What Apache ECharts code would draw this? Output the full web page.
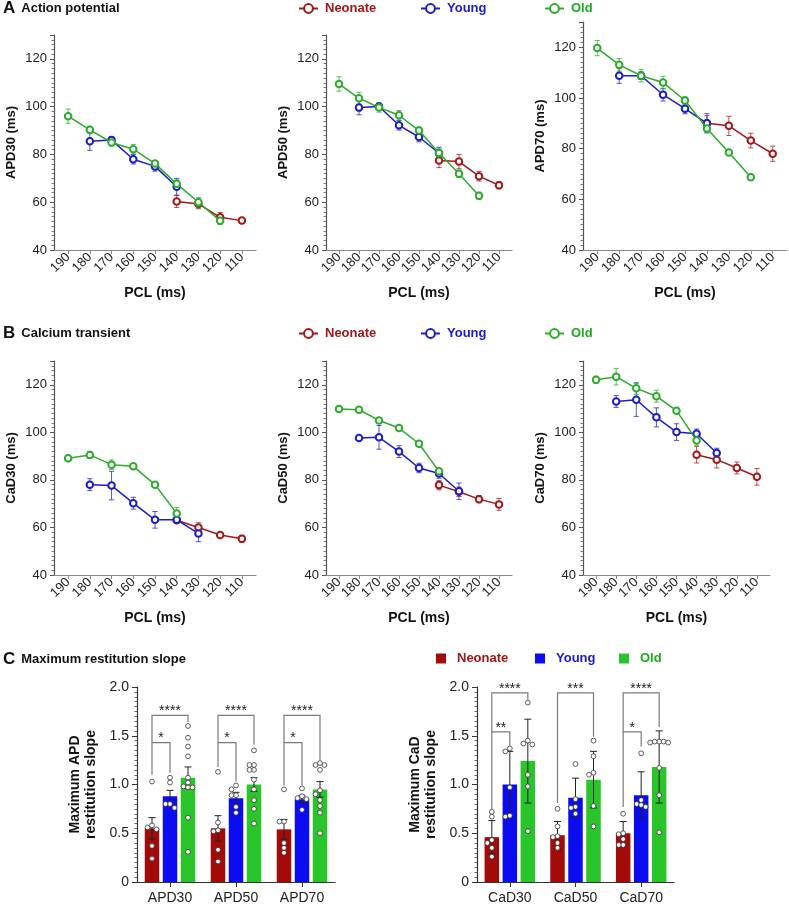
<!DOCTYPE html>
<html><head><meta charset="utf-8">
<script src="https://cdn.jsdelivr.net/npm/echarts@6/dist/echarts.min.js"></script>
<style>html,body{margin:0;padding:0;background:#fff}#c{width:789px;height:906px}</style>
</head><body><div id="c"></div>
<script>
// ---------------- DATA ----------------
const groups = ['Neonate', 'Young', 'Old'];
const pcl = [190, 180, 170, 160, 150, 140, 130, 120, 110];
const lineYTicks = [40, 60, 80, 100, 120];

// Panel A – action potential duration (ms), mean and SEM per PCL
const apd30Neonate    = [null, null, null, null, null, 60.3, 59.3, 53.7, 52.3];
const apd30NeonateSem = [null, null, null, null, null, 2.5, 2, 2, 1];
const apd30Young      = [null, 85.5, 86, 78, 75, 66.5, null, null, null];
const apd30YoungSem   = [null, 3.8, 1.5, 2, 2, 3.5, null, null, null];
const apd30Old        = [96, 90.3, 85, 82.2, 76.2, 67.7, 60, 52.2, null];
const apd30OldSem     = [3, 1.5, 1.5, 2, 1, 2, 2, 1.5, null];

const apd50Neonate    = [null, null, null, null, null, 77.5, 77, 70.9, 67.1];
const apd50NeonateSem = [null, null, null, null, null, 3, 3, 2, 1.5];
const apd50Young      = [null, 99.6, 100.1, 92.2, 87.3, 80.5, null, null, null];
const apd50YoungSem   = [null, 3, 1, 2, 2, 2.5, null, null, null];
const apd50Old        = [109.5, 103.5, 99.7, 96.4, 90, 80.6, 71.9, 62.7, null];
const apd50OldSem     = [3, 2.5, 2, 2, 1.5, 2, 1.5, 1.5, null];

const apd70Neonate    = [null, null, null, null, null, 90, 89, 83.2, 78];
const apd70NeonateSem = [null, null, null, null, null, 3, 3.8, 2.9, 3];
const apd70Young      = [null, 108.8, 108.8, 101.3, 95.8, 90, null, null, null];
const apd70YoungSem   = [null, 3, 1.5, 2.5, 2, 3.8, null, null, null];
const apd70Old        = [119.7, 113.1, 108.8, 106.1, 99, 88, 78.5, 68.7, null];
const apd70OldSem     = [3, 2.5, 2.5, 2.5, 1.5, 1.5, 1, 0.5, null];

// Panel B – calcium transient duration (ms)
const cad30Neonate    = [null, null, null, null, null, 63, 60, 56.8, 55.2];
const cad30NeonateSem = [null, null, null, null, null, 1, 2, 1, 1.5];
const cad30Young      = [null, 78, 77.6, 70.2, 63.2, 63.2, 57.5, null, null];
const cad30YoungSem   = [null, 2.5, 6, 2.5, 3.5, 1.5, 3.5, null, null];
const cad30Old        = [89.1, 90.5, 86.4, 85.7, 78, 65.9, null, null, null];
const cad30OldSem     = [1.2, 1.5, 2, 1, 1, 2.5, null, null, null];

const cad50Neonate    = [null, null, null, null, null, 77.8, 75, 71.9, 69.7];
const cad50NeonateSem = [null, null, null, null, null, 2, 2, 1.5, 2.5];
const cad50Young      = [null, 97.6, 97.9, 91.9, 85, 82.7, 75.2, null, null];
const cad50YoungSem   = [null, 0.5, 5, 2.5, 2, 2, 3.5, null, null];
const cad50Old        = [109.8, 109.5, 105, 101.8, 95.2, 83.6, null, null, null];
const cad50OldSem     = [1, 1, 1, 0.5, 0.5, 1, null, null, null];

const cad70Neonate    = [null, null, null, null, null, 90.6, 88.5, 85, 81.3];
const cad70NeonateSem = [null, null, null, null, null, 3.5, 3.5, 2.5, 3.5];
const cad70Young      = [null, 113, 113.7, 106.3, 100.1, 99.4, 91.3, null, null];
const cad70YoungSem   = [null, 2.5, 7, 4, 3.5, 2, 2, null, null];
const cad70Old        = [122.1, 123.4, 118.5, 115.2, 109.1, 96.6, null, null, null];
const cad70OldSem     = [1.5, 3.5, 2.5, 2.5, 0.5, 2, null, null, null];

// Panel C – maximum restitution slope
const apdCategories = ['APD30', 'APD50', 'APD70'];
const apdNeonateMean = [0.55, 0.55, 0.54];
const apdNeonateErr  = [0.11, 0.13, 0.10];
const apdYoungMean   = [0.88, 0.86, 0.85];
const apdYoungErr    = [0.06, 0.06, 0.04];
const apdOldMean     = [1.07, 1.00, 0.95];
const apdOldErr      = [0.11, 0.07, 0.08];

const cadCategories = ['CaD30', 'CaD50', 'CaD70'];
const cadNeonateMean = [0.46, 0.48, 0.50];
const cadNeonateErr  = [0.17, 0.14, 0.12];
const cadYoungMean   = [1.00, 0.865, 0.89];
const cadYoungErr    = [0.34, 0.20, 0.24];
const cadOldMean     = [1.24, 1.05, 1.18];
const cadOldErr      = [0.43, 0.29, 0.37];

const apd30NeonatePts = [1.03, 0.58, 0.56, 0.54, 0.37, 0.24];
const apd30YoungPts   = [1.07, 1.02, 0.80, 0.80, 0.76];
const apd30OldPts     = [1.60, 1.48, 1.39, 1.29, 1.07, 1.02, 0.98, 0.97, 0.97, 0.66, 0.31];
const apd50NeonatePts = [1.13, 0.61, 0.53, 0.52, 0.33, 0.21];
const apd50YoungPts   = [0.99, 0.95, 0.89, 0.89, 0.77, 0.71];
const apd50OldPts     = [1.35, 1.20, 1.20, 1.15, 1.15, 1.05, 0.95, 0.84, 0.75, 0.60];
const apd70NeonatePts = [0.95, 0.62, 0.62, 0.40, 0.35, 0.30];
const apd70YoungPts   = [0.96, 0.88, 0.86, 0.85, 0.74];
const apd70OldPts     = [1.22, 1.20, 1.20, 1.15, 0.94, 0.90, 0.84, 0.78, 0.71, 0.50];

const cad30NeonatePts = [0.72, 0.67, 0.43, 0.40, 0.35, 0.26];
const cad30YoungPts   = [1.37, 1.34, 0.97, 0.68, 0.67];
const cad30OldPts     = [1.84, 1.45, 1.42, 1.41, 1.10, 0.98, 0.52];
const cad50NeonatePts = [0.75, 0.57, 0.47, 0.46, 0.40, 0.35];
const cad50YoungPts   = [1.21, 0.85, 0.77, 0.76, 0.70];
const cad50OldPts     = [1.45, 1.29, 1.12, 1.10, 0.78, 0.57];
const cad70NeonatePts = [0.70, 0.50, 0.49, 0.44, 0.38, 0.38];
const cad70YoungPts   = [1.32, 0.84, 0.80, 0.79, 0.77];
const cad70OldPts     = [1.44, 1.44, 1.44, 1.43, 1.43, 1.17, 0.89, 0.51];

// significance brackets: [category, fromGroup, toGroup, level, leftLegEnd, rightLegEnd]
const apdBrackets = [[0,0,2,1.71,1.43,1.64],[0,0,1,1.43,1.10,1.12],[1,0,2,1.71,1.43,1.41],[1,0,1,1.43,1.18,1.03],[2,0,2,1.71,1.43,1.25],[2,0,1,1.43,0.99,0.99]];
const apdBracketLabels = ['****', '*', '****', '*', '****', '*'];
const cadBrackets = [[0,0,2,1.94,1.54,1.87],[0,0,1,1.54,0.74,1.39],[1,0,2,1.94,0.81,1.49],[2,0,2,1.94,1.54,1.59],[2,0,1,1.54,0.77,1.39]];
const cadBracketLabels = ['****', '**', '***', '****', '*'];

// ---------------- STYLE / LAYOUT ----------------
const FONT = 'Liberation Sans, Arial, Helvetica, sans-serif';
const LINE_COLORS = ['#a31818', '#1c1cc8', '#2cab2c'];
const TEXT_COLORS = ['#a01818', '#1a1ad0', '#20aa20'];
const BAR_COLORS  = ['#a30b0b', '#0c0cf0', '#2ac52a'];
const BAR_W = 14.5, BAR_GAP_PX = 3.5, BAR_STEP = BAR_W + BAR_GAP_PX;
const X_MIN = 103.5, X_MAX = 196.5;

const lineGrids = [
  {left: 54,  top: 35,  width: 202, height: 215},
  {left: 326, top: 35,  width: 186, height: 215},
  {left: 583, top: 22,  width: 204, height: 228},
  {left: 54,  top: 361, width: 202, height: 214},
  {left: 326, top: 361, width: 186, height: 214},
  {left: 583, top: 361, width: 187, height: 214}
];
const barGrids = [
  {left: 137, top: 687, width: 198, height: 195},
  {left: 477, top: 687, width: 197, height: 195}
];

const linePanels = [
  {name: 'APD30 (ms)', sets: [[apd30Neonate, apd30NeonateSem], [apd30Young, apd30YoungSem], [apd30Old, apd30OldSem]]},
  {name: 'APD50 (ms)', sets: [[apd50Neonate, apd50NeonateSem], [apd50Young, apd50YoungSem], [apd50Old, apd50OldSem]]},
  {name: 'APD70 (ms)', sets: [[apd70Neonate, apd70NeonateSem], [apd70Young, apd70YoungSem], [apd70Old, apd70OldSem]]},
  {name: 'CaD30 (ms)', sets: [[cad30Neonate, cad30NeonateSem], [cad30Young, cad30YoungSem], [cad30Old, cad30OldSem]]},
  {name: 'CaD50 (ms)', sets: [[cad50Neonate, cad50NeonateSem], [cad50Young, cad50YoungSem], [cad50Old, cad50OldSem]]},
  {name: 'CaD70 (ms)', sets: [[cad70Neonate, cad70NeonateSem], [cad70Young, cad70YoungSem], [cad70Old, cad70OldSem]]}
];

const barPanels = [
  {cats: apdCategories, yName: 'Maximum APD\nrestitution slope',
   means: [apdNeonateMean, apdYoungMean, apdOldMean], errs: [apdNeonateErr, apdYoungErr, apdOldErr],
   pts: [[apd30NeonatePts, apd30YoungPts, apd30OldPts], [apd50NeonatePts, apd50YoungPts, apd50OldPts], [apd70NeonatePts, apd70YoungPts, apd70OldPts]],
   brackets: apdBrackets, labels: apdBracketLabels},
  {cats: cadCategories, yName: 'Maximum CaD\nrestitution slope',
   means: [cadNeonateMean, cadYoungMean, cadOldMean], errs: [cadNeonateErr, cadYoungErr, cadOldErr],
   pts: [[cad30NeonatePts, cad30YoungPts, cad30OldPts], [cad50NeonatePts, cad50YoungPts, cad50OldPts], [cad70NeonatePts, cad70YoungPts, cad70OldPts]],
   brackets: cadBrackets, labels: cadBracketLabels}
];

// ---------------- BUILD ----------------
const grid = [], xAxis = [], yAxis = [], series = [];

function lineErrRender(color) {
  return function (params, api) {
    const x = api.value(0);
    const a = api.coord([x, api.value(1)]), b = api.coord([x, api.value(2)]);
    const st = {stroke: color, lineWidth: 1, opacity: 0.75};
    const c = 2.6;
    return {type: 'group', children: [
      {type: 'line', shape: {x1: a[0], y1: a[1], x2: b[0], y2: b[1]}, style: st},
      {type: 'line', shape: {x1: a[0] - c, y1: a[1], x2: a[0] + c, y2: a[1]}, style: st},
      {type: 'line', shape: {x1: b[0] - c, y1: b[1], x2: b[0] + c, y2: b[1]}, style: st}
    ]};
  };
}

linePanels.forEach((p, k) => {
  grid.push(Object.assign({containLabel: false}, lineGrids[k]));
  xAxis.push({
    gridIndex: k, type: 'value', inverse: true, min: X_MIN, max: X_MAX,
    name: 'PCL (ms)', nameLocation: 'middle', nameGap: 36,
    nameTextStyle: {fontSize: 14, fontWeight: 'bold', color: '#111', fontFamily: FONT},
    axisLine: {show: true, onZero: false, lineStyle: {color: '#8a8a8a', width: 1.2}},
    axisTick: {show: true, customValues: pcl, length: 4, lineStyle: {color: '#8a8a8a'}},
    axisLabel: {customValues: pcl, rotate: 45, fontSize: 13, color: '#222', margin: 5, fontFamily: FONT},
    splitLine: {show: false}
  });
  yAxis.push({
    gridIndex: k, type: 'value', min: 40, max: 130, interval: 20,
    name: p.name, nameLocation: 'middle', nameGap: 36,
    nameTextStyle: {fontSize: 13, fontWeight: 'bold', color: '#111', fontFamily: FONT},
    axisLine: {show: true, onZero: false, lineStyle: {color: '#555', width: 1.2}},
    axisTick: {show: true, length: 4, lineStyle: {color: '#555'}},
    minorTick: {show: true, splitNumber: 10, length: 2.5, lineStyle: {color: '#777'}},
    axisLabel: {customValues: lineYTicks, fontSize: 13, color: '#222', margin: 7, fontFamily: FONT},
    splitLine: {show: false}, minorSplitLine: {show: false}
  });
  p.sets.forEach(([mean, sem], g) => {
    const pts = [], errs = [];
    pcl.forEach((x, i) => {
      if (mean[i] == null) return;
      pts.push([x, mean[i]]);
      errs.push([x, mean[i] - sem[i], mean[i] + sem[i]]);
    });
    series.push({
      type: 'custom', xAxisIndex: k, yAxisIndex: k, data: errs, encode: {x: 0, y: [1, 2]},
      renderItem: lineErrRender(LINE_COLORS[g]), z: 2 + g, silent: true, clip: false
    });
    series.push({
      type: 'line', name: groups[g], xAxisIndex: k, yAxisIndex: k, data: pts,
      symbol: 'emptyCircle', symbolSize: 6.5,
      lineStyle: {color: LINE_COLORS[g], width: 1.5},
      itemStyle: {color: LINE_COLORS[g], borderWidth: 1.1},
      z: 3 + g, emphasis: {disabled: true}, animation: false
    });
  });
});

function swarm(vals) {
  const steps = [0, -4.5, 4.5, -9, 9, -13.5, 13.5];
  const placed = [];
  return vals.map(v => {
    for (const s of steps) {
      if (placed.every(q => Math.abs(q.v - v) > 0.045 || Math.abs(q.o - s) >= 4.5)) {
        placed.push({v: v, o: s});
        return s;
      }
    }
    return 0;
  });
}

barPanels.forEach((p, j) => {
  const k = linePanels.length + j;
  grid.push(Object.assign({containLabel: false}, barGrids[j]));
  xAxis.push({
    gridIndex: k, type: 'category', data: p.cats,
    axisLine: {show: true, lineStyle: {color: '#333', width: 1.2}},
    axisTick: {show: true, alignWithLabel: true, length: 5, lineStyle: {color: '#333'}},
    axisLabel: {fontSize: 14, color: '#222', margin: 9, fontFamily: FONT},
    splitLine: {show: false}
  });
  yAxis.push({
    gridIndex: k, type: 'value', min: 0, max: 2, interval: 0.5,
    name: p.yName, nameLocation: 'middle', nameGap: 38,
    nameTextStyle: {fontSize: 14, fontWeight: 'bold', color: '#111', lineHeight: 16, fontFamily: FONT},
    axisLine: {show: true, lineStyle: {color: '#333', width: 1.2}},
    axisTick: {show: true, length: 5, lineStyle: {color: '#333'}},
    minorTick: {show: true, splitNumber: 10, length: 2.5, lineStyle: {color: '#666'}},
    axisLabel: {fontSize: 14, color: '#222', margin: 8, fontFamily: FONT,
      formatter: v => (v === 0 ? '0' : v.toFixed(1))},
    splitLine: {show: false}, minorSplitLine: {show: false}
  });
  groups.forEach((name, g) => {
    series.push({
      type: 'bar', name: name, xAxisIndex: k, yAxisIndex: k, data: p.means[g],
      barWidth: BAR_W, barGap: (BAR_GAP_PX / BAR_W * 100) + '%',
      itemStyle: {color: BAR_COLORS[g]}, z: 2, emphasis: {disabled: true}
    });
  });
  // error bars
  const errData = [];
  groups.forEach((name, g) => p.means[g].forEach((m, c) => errData.push([c, m - p.errs[g][c], m + p.errs[g][c], g])));
  series.push({
    type: 'custom', xAxisIndex: k, yAxisIndex: k, data: errData, encode: {x: 0, y: [1, 2]},
    z: 3, silent: true, clip: false,
    renderItem: function (params, api) {
      const c = api.value(0), g = api.value(3);
      const a = api.coord([c, api.value(1)]), b = api.coord([c, api.value(2)]);
      const x = a[0] + (g - 1) * BAR_STEP, h = 3.5;
      const st = {stroke: '#222', lineWidth: 1};
      return {type: 'group', children: [
        {type: 'line', shape: {x1: x, y1: a[1], x2: x, y2: b[1]}, style: st},
        {type: 'line', shape: {x1: x - h, y1: a[1], x2: x + h, y2: a[1]}, style: st},
        {type: 'line', shape: {x1: x - h, y1: b[1], x2: x + h, y2: b[1]}, style: st}
      ]};
    }
  });
  // individual points
  const dotData = [];
  p.pts.forEach((byGroup, c) => byGroup.forEach((vals, g) => {
    const offs = swarm(vals);
    vals.forEach((v, i) => dotData.push([c, v, g, offs[i]]));
  }));
  series.push({
    type: 'custom', xAxisIndex: k, yAxisIndex: k, data: dotData, encode: {x: 0, y: 1},
    z: 4, silent: true, clip: false,
    renderItem: function (params, api) {
      const pt = api.coord([api.value(0), api.value(1)]);
      return {type: 'circle', shape: {cx: pt[0] + (api.value(2) - 1) * BAR_STEP + api.value(3), cy: pt[1], r: 2.4},
        style: {fill: '#fff', stroke: '#333', lineWidth: 0.8}};
    }
  });
  // significance brackets
  const labels = p.labels;
  series.push({
    type: 'custom', xAxisIndex: k, yAxisIndex: k, data: p.brackets, encode: {x: 0, y: 3},
    z: 5, silent: true, clip: false,
    renderItem: function (params, api) {
      const c = api.value(0), g1 = api.value(1), g2 = api.value(2);
      const base = api.coord([c, api.value(3)]);
      const xa = base[0] + (g1 - 1) * BAR_STEP, xb = base[0] + (g2 - 1) * BAR_STEP;
      const ya = api.coord([c, api.value(4)])[1], yb = api.coord([c, api.value(5)])[1];
      return {type: 'group', children: [
        {type: 'polyline', shape: {points: [[xa, ya], [xa, base[1]], [xb, base[1]], [xb, yb]]},
          style: {stroke: '#7a7a7a', lineWidth: 1.2, fill: null}},
        {type: 'text', style: {text: labels[params.dataIndex], x: (xa + xb) / 2, y: base[1] - 4,
          align: 'center', verticalAlign: 'middle', fontSize: 14, fontFamily: FONT, fill: '#222'}}
      ]};
    }
  });
});

function lineLegend(g, left, top) {
  return {data: [groups[g]], left: left, top: top, padding: 0, itemWidth: 19, itemHeight: 11, selectedMode: false,
    textStyle: {color: TEXT_COLORS[g], fontSize: 13, fontWeight: 'bold', fontFamily: FONT, padding: [0, 0, 0, 2]}};
}
function barLegend(g, left, top) {
  return {data: [{name: groups[g], icon: 'rect', itemStyle: {color: BAR_COLORS[g], borderWidth: 0}}],
    left: left, top: top, padding: 0, itemWidth: 10, itemHeight: 10, selectedMode: false,
    textStyle: {color: TEXT_COLORS[g], fontSize: 13, fontWeight: 'bold', fontFamily: FONT, padding: [0, 0, 0, 6]}};
}

const titleStyle = {fontSize: 13, fontWeight: 'bold', color: '#111', fontFamily: FONT,
  rich: {p: {fontSize: 17, fontWeight: 'bold', color: '#111', fontFamily: FONT, padding: [0, 6, 0, 0]}}};

const option = {
  animation: false,
  textStyle: {fontFamily: FONT},
  title: [
    {text: '{p|A}Action potential', left: 3, top: 0, padding: 0, textStyle: titleStyle},
    {text: '{p|B}Calcium transient', left: 3, top: 325, padding: 0, textStyle: titleStyle},
    {text: '{p|C}Maximum restitution slope', left: 3, top: 651, padding: 0, textStyle: titleStyle}
  ],
  legend: [
    lineLegend(0, 298, 2), lineLegend(1, 420, 2), lineLegend(2, 544, 2),
    lineLegend(0, 298, 327), lineLegend(1, 420, 327), lineLegend(2, 544, 327),
    barLegend(0, 436, 652), barLegend(1, 535, 652), barLegend(2, 619, 652)
  ],
  grid: grid, xAxis: xAxis, yAxis: yAxis, series: series
};

const chart = echarts.init(document.getElementById('c'), null, {renderer: 'canvas'});
chart.setOption(option);
</script>
</body></html>
